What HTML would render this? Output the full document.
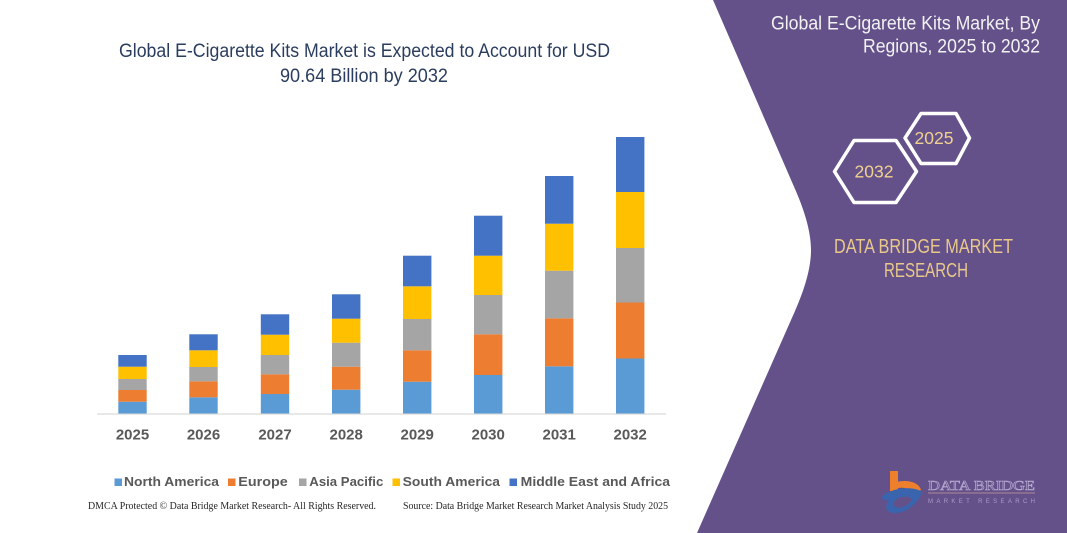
<!DOCTYPE html>
<html>
<head>
<meta charset="utf-8">
<style>
  html,body{margin:0;padding:0;background:#fff;}
  body{width:1067px;height:533px;overflow:hidden;}
  svg{display:block;}
  text{font-family:"Liberation Sans",sans-serif;}
</style>
</head>
<body>
<svg width="1067" height="533" viewBox="0 0 1067 533" xmlns="http://www.w3.org/2000/svg">
  <rect x="0" y="0" width="1067" height="533" fill="#ffffff"/>
  <!-- purple panel -->
  <path d="M713,0 L795,189 C806,214 811,234 811,250 C811,266 806,286 795,311 L697,533 L1067,533 L1067,0 Z" fill="#64518a"/>

  <!-- left title -->
  <text x="119" y="57" font-size="19" fill="#2b3d5e" textLength="491" lengthAdjust="spacingAndGlyphs">Global E-Cigarette Kits Market is Expected to Account for USD</text>
  <text x="280" y="82" font-size="19" fill="#2b3d5e" textLength="168" lengthAdjust="spacingAndGlyphs">90.64 Billion by 2032</text>

  <!-- axis -->
  <line x1="97" y1="414" x2="666" y2="414" stroke="#d9d9d9" stroke-width="1.2"/>

  <!-- bars: lightblue, orange, gray, yellow, blue -->
  <g>
    <!-- 2025 -->
    <rect x="118.3" y="401.7" width="28.4" height="11.8" fill="#5b9bd5"/>
    <rect x="118.3" y="390" width="28.4" height="11.7" fill="#ed7d31"/>
    <rect x="118.3" y="379" width="28.4" height="11" fill="#a5a5a5"/>
    <rect x="118.3" y="366.7" width="28.4" height="12.3" fill="#ffc000"/>
    <rect x="118.3" y="355" width="28.4" height="11.7" fill="#4472c4"/>
    <!-- 2026 -->
    <rect x="189.3" y="397.3" width="28.4" height="16.2" fill="#5b9bd5"/>
    <rect x="189.3" y="381.3" width="28.4" height="16" fill="#ed7d31"/>
    <rect x="189.3" y="367" width="28.4" height="14.3" fill="#a5a5a5"/>
    <rect x="189.3" y="350.3" width="28.4" height="16.7" fill="#ffc000"/>
    <rect x="189.3" y="334.3" width="28.4" height="16" fill="#4472c4"/>
    <!-- 2027 -->
    <rect x="260.8" y="394" width="28.4" height="19.5" fill="#5b9bd5"/>
    <rect x="260.8" y="374.3" width="28.4" height="19.7" fill="#ed7d31"/>
    <rect x="260.8" y="355" width="28.4" height="19.3" fill="#a5a5a5"/>
    <rect x="260.8" y="334.7" width="28.4" height="20.3" fill="#ffc000"/>
    <rect x="260.8" y="314.3" width="28.4" height="20.4" fill="#4472c4"/>
    <!-- 2028 -->
    <rect x="332" y="389.7" width="28.4" height="23.8" fill="#5b9bd5"/>
    <rect x="332" y="366.7" width="28.4" height="23" fill="#ed7d31"/>
    <rect x="332" y="342.7" width="28.4" height="24" fill="#a5a5a5"/>
    <rect x="332" y="318.7" width="28.4" height="24" fill="#ffc000"/>
    <rect x="332" y="294.3" width="28.4" height="24.4" fill="#4472c4"/>
    <!-- 2029 -->
    <rect x="403" y="381.7" width="28.4" height="31.8" fill="#5b9bd5"/>
    <rect x="403" y="350.3" width="28.4" height="31.4" fill="#ed7d31"/>
    <rect x="403" y="319" width="28.4" height="31.3" fill="#a5a5a5"/>
    <rect x="403" y="286.3" width="28.4" height="32.7" fill="#ffc000"/>
    <rect x="403" y="255.7" width="28.4" height="30.6" fill="#4472c4"/>
    <!-- 2030 -->
    <rect x="474" y="375" width="28.4" height="38.5" fill="#5b9bd5"/>
    <rect x="474" y="334.3" width="28.4" height="40.7" fill="#ed7d31"/>
    <rect x="474" y="295" width="28.4" height="39.3" fill="#a5a5a5"/>
    <rect x="474" y="255.7" width="28.4" height="39.3" fill="#ffc000"/>
    <rect x="474" y="215.7" width="28.4" height="40" fill="#4472c4"/>
    <!-- 2031 -->
    <rect x="545" y="366.3" width="28.4" height="47.2" fill="#5b9bd5"/>
    <rect x="545" y="318.3" width="28.4" height="48" fill="#ed7d31"/>
    <rect x="545" y="270.7" width="28.4" height="47.6" fill="#a5a5a5"/>
    <rect x="545" y="223.7" width="28.4" height="47" fill="#ffc000"/>
    <rect x="545" y="176" width="28.4" height="47.7" fill="#4472c4"/>
    <!-- 2032 -->
    <rect x="616" y="358.5" width="28.4" height="55" fill="#5b9bd5"/>
    <rect x="616" y="302.5" width="28.4" height="56" fill="#ed7d31"/>
    <rect x="616" y="248" width="28.4" height="54.5" fill="#a5a5a5"/>
    <rect x="616" y="192" width="28.4" height="56" fill="#ffc000"/>
    <rect x="616" y="137" width="28.4" height="55" fill="#4472c4"/>
  </g>

  <!-- year labels -->
  <g font-size="15" font-weight="bold" fill="#595959" text-anchor="middle">
    <text x="132.5" y="439.3">2025</text>
    <text x="203.5" y="439.3">2026</text>
    <text x="275" y="439.3">2027</text>
    <text x="346.2" y="439.3">2028</text>
    <text x="417.2" y="439.3">2029</text>
    <text x="488.2" y="439.3">2030</text>
    <text x="559.2" y="439.3">2031</text>
    <text x="630.2" y="439.3">2032</text>
  </g>

  <!-- legend -->
  <g font-size="13" font-weight="bold" fill="#595959">
    <rect x="114.5" y="478.5" width="7.5" height="7.5" fill="#5b9bd5"/>
    <text x="124" y="486" textLength="95" lengthAdjust="spacingAndGlyphs">North America</text>
    <rect x="228" y="478.5" width="7.5" height="7.5" fill="#ed7d31"/>
    <text x="238.3" y="486" textLength="49.4" lengthAdjust="spacingAndGlyphs">Europe</text>
    <rect x="299" y="478.5" width="7.5" height="7.5" fill="#a5a5a5"/>
    <text x="309.3" y="486" textLength="74" lengthAdjust="spacingAndGlyphs">Asia Pacific</text>
    <rect x="392.5" y="478.5" width="7.5" height="7.5" fill="#ffc000"/>
    <text x="402.7" y="486" textLength="97.3" lengthAdjust="spacingAndGlyphs">South America</text>
    <rect x="509.5" y="478.5" width="7.5" height="7.5" fill="#4472c4"/>
    <text x="520.7" y="486" textLength="149.3" lengthAdjust="spacingAndGlyphs">Middle East and Africa</text>
  </g>

  <!-- footer -->
  <g font-family="Liberation Serif, serif" font-size="10" fill="#262626">
    <text x="88" y="509" textLength="288" lengthAdjust="spacingAndGlyphs" style="font-family:'Liberation Serif',serif">DMCA Protected © Data Bridge Market Research-  All Rights Reserved.</text>
    <text x="403" y="509" textLength="265" lengthAdjust="spacingAndGlyphs" style="font-family:'Liberation Serif',serif">Source: Data Bridge Market Research  Market Analysis Study 2025</text>
  </g>

  <!-- right title -->
  <g font-size="19" fill="#f2f2f2" text-anchor="end">
    <text x="1040" y="29.5" textLength="269" lengthAdjust="spacingAndGlyphs">Global E-Cigarette Kits Market, By</text>
    <text x="1040" y="52.5" textLength="177" lengthAdjust="spacingAndGlyphs">Regions, 2025 to 2032</text>
  </g>

  <!-- hexagons -->
  <g fill="none" stroke="#ffffff" stroke-width="3.5" stroke-linejoin="round">
    <polygon points="834.5,171.5 854,140.5 896,140.5 916.5,171.5 896,202.5 854,202.5"/>
    <polygon points="905,138 921,113.5 956,113.5 969.5,138 956,163.5 921,163.5"/>
  </g>
  <g font-size="17.5" fill="#f1d18e" text-anchor="middle">
    <text x="874" y="177.5">2032</text>
    <text x="934" y="144">2025</text>
  </g>

  <!-- DATA BRIDGE MARKET RESEARCH -->
  <g font-size="20.5" fill="#e9c88a" text-anchor="middle">
    <text x="923.5" y="253" textLength="179" lengthAdjust="spacingAndGlyphs">DATA BRIDGE MARKET</text>
    <text x="926" y="277" textLength="84" lengthAdjust="spacingAndGlyphs">RESEARCH</text>
  </g>

  <!-- logo -->
  <g>
    <rect x="890" y="471" width="8" height="20" fill="#ee7f2d"/>
    <path d="M890,485 C898,479 918,479 921,490 L914,493 C910,487 898,486 890,491 Z" fill="#ee7f2d"/>
    <path d="M881,497 C892,487 915,486 922,492 C918,504 905,514 893,513 C886,512 884,507 889,500 C886,501 883,500 881,497 Z" fill="#3a65ae"/>
    <path d="M893,503 C898,496 908,495 912,499 C909,506 900,509 895,507 Z" fill="#64518a"/>
    <text x="928" y="490" font-size="14" fill="none" stroke="#b9add3" stroke-width="0.6" textLength="107" lengthAdjust="spacingAndGlyphs" style="font-family:'Liberation Serif',serif">DATA BRIDGE</text>
    <line x1="928" y1="493" x2="1035" y2="493" stroke="#c79a9a" stroke-width="0.8"/>
    <text x="928" y="503" font-size="6" fill="#a99cc6" textLength="107" lengthAdjust="spacing">MARKET RESEARCH</text>
  </g>
</svg>
</body>
</html>
